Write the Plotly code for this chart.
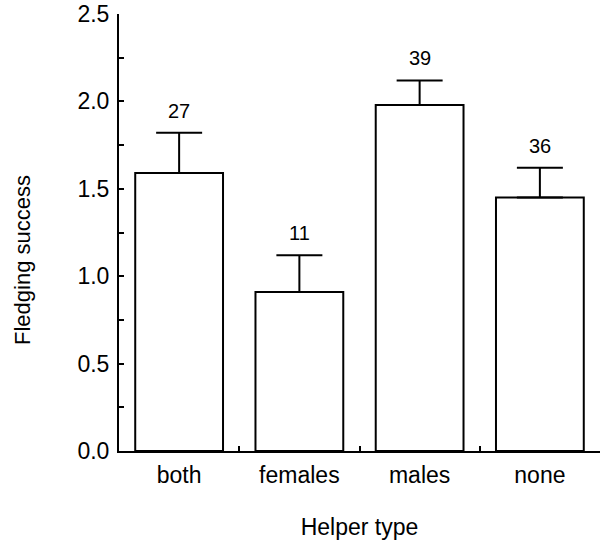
import plotly.graph_objects as go

categories = ["both", "females", "males", "none"]
means = [1.59, 0.91, 1.98, 1.45]
errors_up = [0.23, 0.21, 0.14, 0.17]
sample_sizes = ["27", "11", "39", "36"]
y_tick_values = [0.0, 0.5, 1.0, 1.5, 2.0, 2.5]

FONT = "Liberation Sans, Arial, Helvetica, sans-serif"

fig = go.Figure()
fig.add_trace(go.Bar(
    x=categories,
    y=means,
    width=0.73,
    marker=dict(color="white", line=dict(color="black", width=2)),
    error_y=dict(type="data", array=errors_up, arrayminus=[0] * len(errors_up),
                 symmetric=False, color="black", thickness=2, width=23),
    showlegend=False,
))

for cat, m, e, n in zip(categories, means, errors_up, sample_sizes):
    fig.add_annotation(x=cat, y=m + e, text=n, showarrow=False,
                       yanchor="bottom", yshift=9,
                       font=dict(family=FONT, size=20, color="black"))

fig.add_annotation(text="Fledging success", xref="paper", yref="paper",
                   x=-0.2017, y=0.437, xanchor="center", yanchor="middle",
                   textangle=-90, showarrow=False,
                   font=dict(family=FONT, size=22, color="black"))

fig.update_layout(
    width=600, height=541,
    margin=dict(l=119, r=0, t=14, b=90),
    paper_bgcolor="white", plot_bgcolor="white",
    font=dict(family=FONT, size=23, color="black"),
)
fig.update_xaxes(
    type="category", range=[-0.5, 3.5],
    showline=True, linecolor="black", linewidth=2,
    ticks="inside", tickson="boundaries", ticklen=5, tickwidth=1.5, tickcolor="black",
    ticklabelstandoff=2,
    showgrid=False, zeroline=False,
    title=dict(text="Helper type", standoff=32, font=dict(size=23)),
)
fig.update_yaxes(
    range=[0, 2.5], tickvals=y_tick_values, tickformat=".1f",
    showline=True, linecolor="black", linewidth=2,
    ticks="inside", ticklen=5, tickwidth=1.5, tickcolor="black",
    minor=dict(dtick=0.25, ticks="inside", ticklen=5, tickwidth=1.5, tickcolor="black"),
    ticklabelstandoff=3,
    showgrid=False, zeroline=False,
)

fig.write_html("out.html", config={"displayModeBar": False},
               post_script="document.body.style.margin='0';document.body.style.overflow='hidden';")
